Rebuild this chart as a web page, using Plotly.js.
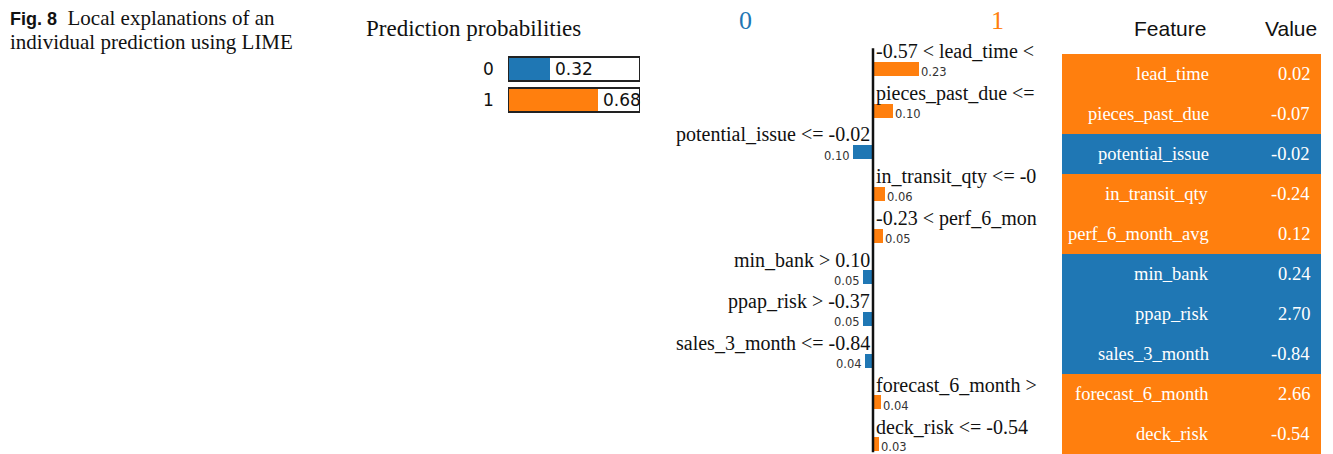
<!DOCTYPE html>
<html><head><meta charset="utf-8">
<script src="https://cdn.plot.ly/plotly-3.0.1.min.js"></script>
<style>html,body{margin:0;padding:0;background:#fff}#chart{width:1333px;height:454px}</style>
</head><body><div id="chart"></div>
<script>
// ---- data ----
var classNames = ['0', '1'];
var classProbs = [0.32, 0.68];
var conditions = ['-0.57 < lead_time <', 'pieces_past_due <=', 'potential_issue <= -0.02', 'in_transit_qty <= -0',
  '-0.23 < perf_6_mon', 'min_bank > 0.10', 'ppap_risk > -0.37', 'sales_3_month <= -0.84', 'forecast_6_month >', 'deck_risk <= -0.54'];
var weights = [0.23, 0.10, -0.10, 0.06, 0.05, -0.05, -0.05, -0.04, 0.04, 0.03];
var features = ['lead_time', 'pieces_past_due', 'potential_issue', 'in_transit_qty', 'perf_6_month_avg',
  'min_bank', 'ppap_risk', 'sales_3_month', 'forecast_6_month', 'deck_risk'];
var featureValues = ['0.02', '-0.07', '-0.02', '-0.24', '0.12', '0.24', '2.70', '-0.84', '2.66', '-0.54'];
var tableHeader = ['Feature', 'Value'];

var BLUE = '#1f77b4', ORANGE = '#ff7f0e';
var W = 1333, H = 454;
function px(x) { return x / W; }
function py(y) { return 1 - y / H; }
var SERIF = '"Liberation Serif", "Times New Roman", serif';
var SANS = '"DejaVu Sans", sans-serif';
var ARIAL = '"Liberation Sans", Arial, sans-serif';

var idx = features.map(function (_, i) { return i; });
var cls = [0, 1];

var traces = [];
// prediction probabilities
traces.push({
  type: 'bar', orientation: 'h', x: classProbs, y: cls, xaxis: 'x2', yaxis: 'y2',
  width: 0.77, marker: { color: [BLUE, ORANGE] }, hoverinfo: 'skip', showlegend: false
});
// LIME weights
traces.push({
  type: 'bar', orientation: 'h', x: weights, y: idx, xaxis: 'x3', yaxis: 'y3',
  width: 0.34, marker: { color: weights.map(function (w) { return w >= 0 ? ORANGE : BLUE; }) },
  hoverinfo: 'skip', showlegend: false
});
// table background: one heatmap column, colour by sign of the weight
traces.push({
  type: 'heatmap', xaxis: 'x4', yaxis: 'y4', x: [0], y: idx,
  z: weights.map(function (w) { return [w >= 0 ? 1 : 0]; }),
  zmin: 0, zmax: 1, colorscale: [[0, BLUE], [1, ORANGE]], showscale: false, hoverinfo: 'skip'
});

var annotations = [];
var shapes = [];
// caption
annotations.push({
  xref: 'paper', yref: 'paper', x: px(8), y: py(18), xanchor: 'left', yanchor: 'middle', showarrow: false,
  text: '<span style="font-family:\'Liberation Sans\',Arial,sans-serif;font-weight:bold;font-size:18px">Fig. 8</span>  Local explanations of an',
  font: { family: SERIF, size: 21, color: '#111' }
});
annotations.push({
  xref: 'paper', yref: 'paper', x: px(8), y: py(42), xanchor: 'left', yanchor: 'middle', showarrow: false,
  text: 'individual prediction using LIME', font: { family: SERIF, size: 21, color: '#111' }
});
// prediction probabilities title
annotations.push({
  xref: 'paper', yref: 'paper', x: px(364), y: py(29), xanchor: 'left', yanchor: 'middle', showarrow: false,
  text: 'Prediction probabilities', font: { family: SERIF, size: 23, color: '#111' }
});
cls.forEach(function (c) {
  shapes.push({ type: 'rect', xref: 'x2', yref: 'y2', x0: 0, x1: 1, y0: c - 0.385, y1: c + 0.385,
    line: { color: '#222', width: 2 }, fillcolor: 'rgba(0,0,0,0)', layer: 'above' });
  annotations.push({ xref: 'x2', yref: 'y2', x: 0, y: c, xanchor: 'right', yanchor: 'middle', xshift: -12, showarrow: false,
    text: classNames[c], font: { family: SANS, size: 17, color: '#111' } });
  annotations.push({ xref: 'x2', yref: 'y2', x: classProbs[c], y: c, xanchor: 'left', yanchor: 'middle', xshift: 3, showarrow: false,
    text: classProbs[c].toFixed(2), font: { family: SANS, size: 17, color: '#111' } });
});
// class headers
annotations.push({ xref: 'paper', yref: 'paper', x: px(745), y: py(20), xanchor: 'center', yanchor: 'middle', showarrow: false,
  text: classNames[0], font: { family: SERIF, size: 26, color: BLUE } });
annotations.push({ xref: 'paper', yref: 'paper', x: px(998), y: py(20), xanchor: 'center', yanchor: 'middle', showarrow: false,
  text: classNames[1], font: { family: SERIF, size: 26, color: ORANGE } });
// weights labels
idx.forEach(function (i) {
  var w = weights[i], pos = w >= 0;
  annotations.push({ xref: 'x3', yref: 'y3', x: 0, y: i - 0.42, xanchor: pos ? 'left' : 'right', yanchor: 'middle',
    xshift: pos ? 1 : -1, showarrow: false, text: conditions[i], font: { family: SERIF, size: 20, color: '#111' } });
  annotations.push({ xref: 'x3', yref: 'y3', x: w, y: i + 0.08, xanchor: pos ? 'left' : 'right', yanchor: 'middle',
    xshift: pos ? 0 : -1, showarrow: false, text: Math.abs(w).toFixed(2), font: { family: SANS, size: 11.5, color: '#333' } });
});
shapes.push({ type: 'line', xref: 'x3', yref: 'y3', x0: 0, x1: 0, y0: -0.5, y1: 9.2, line: { color: '#111', width: 2.5 }, layer: 'above' });
// table header and cells text
annotations.push({ xref: 'paper', yref: 'paper', x: px(1208), y: py(28), xanchor: 'right', yanchor: 'middle', showarrow: false,
  text: tableHeader[0], font: { family: ARIAL, size: 21, color: '#111' } });
annotations.push({ xref: 'paper', yref: 'paper', x: px(1319), y: py(28), xanchor: 'right', yanchor: 'middle', showarrow: false,
  text: tableHeader[1], font: { family: ARIAL, size: 21, color: '#111' } });
idx.forEach(function (i) {
  annotations.push({ xref: 'paper', yref: 'y4', x: px(1211), y: i, xanchor: 'right', yanchor: 'middle', showarrow: false,
    text: features[i], font: { family: SERIF, size: 18.5, color: 'white' } });
  annotations.push({ xref: 'paper', yref: 'y4', x: px(1312), y: i, xanchor: 'right', yanchor: 'middle', showarrow: false,
    text: featureValues[i], font: { family: SERIF, size: 18.5, color: 'white' } });
});

var hidden = { visible: false, fixedrange: true };
var layout = {
  width: W, height: H, margin: { l: 0, r: 0, t: 0, b: 0, pad: 0 },
  paper_bgcolor: 'white', plot_bgcolor: 'rgba(0,0,0,0)', showlegend: false, bargap: 0,
  xaxis: Object.assign({}, hidden, { domain: [0, 0.01] }), yaxis: Object.assign({}, hidden, { domain: [0, 0.01] }),
  xaxis2: Object.assign({}, hidden, { domain: [px(508), px(640)], range: [0, 1], anchor: 'y2' }),
  yaxis2: Object.assign({}, hidden, { domain: [py(120), py(50)], range: [1.645, -0.613], anchor: 'x2' }),
  xaxis3: Object.assign({}, hidden, { domain: [px(660), px(1060)], range: [-1.065, 0.935], anchor: 'y3' }),
  yaxis3: Object.assign({}, hidden, { domain: [0, py(30)], range: [9.239, -0.936], anchor: 'x3' }),
  xaxis4: Object.assign({}, hidden, { domain: [px(1062), px(1321)], range: [-0.5, 0.5], anchor: 'y4' }),
  yaxis4: Object.assign({}, hidden, { domain: [0, py(54)], range: [9.5, -0.5], anchor: 'x4' }),
  annotations: annotations, shapes: shapes
};
Plotly.newPlot('chart', traces, layout, { staticPlot: true, displayModeBar: false });
</script></body></html>
